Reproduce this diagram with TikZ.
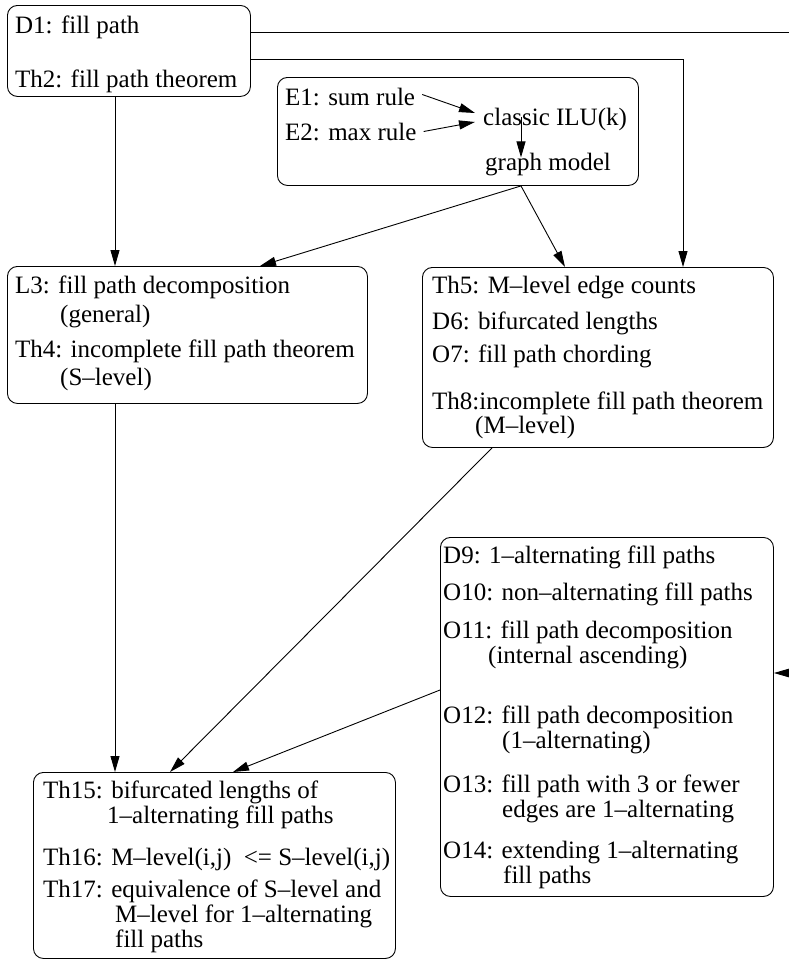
\documentclass[tikz,border=0pt]{standalone}
\usepackage{fontspec}
\setmainfont{Liberation Serif}
\usetikzlibrary{arrows.meta,calc}
\begin{document}
\begin{tikzpicture}[x=1pt,y=-1pt,
  box/.style={draw, rounded corners=10pt, line width=0.9pt, inner sep=0pt, anchor=north west},
  txt/.style={anchor=base west, inner sep=0pt, font=\fontsize{25}{25}\selectfont},
  arr/.style={-{Triangle[length=16pt,width=9pt]}, line width=0.9pt},
  ln/.style={line width=0.9pt}]
\useasboundingbox (0,0) rectangle (789,961);
\clip (0,0) rectangle (789,961);

% boxes
\node[box, minimum width=243pt, minimum height=91pt] (d1) at (7,5) {};
\node[box, minimum width=361pt, minimum height=108pt] (e) at (277,77) {};
\node[box, minimum width=360pt, minimum height=137pt] (l3) at (7,266) {};
\node[box, minimum width=351pt, minimum height=180pt] (th5) at (422,267) {};
\node[box, minimum width=333pt, minimum height=359pt] (d9) at (440,537) {};
\node[box, minimum width=362pt, minimum height=186pt] (th15) at (33,772) {};

% texts
\node[txt] (t1) at (15,33) {D1: fill path};
\node[txt] (t2) at (15,87) {Th2: fill path theorem};

\node[txt] (e1) at (285,105) {E1: sum rule};
\node[txt] (e2) at (285,140) {E2: max rule};
\node[txt] (ilu) at (483,125) {classic ILU(k)};
\node[txt] (gm) at (485,170) {graph model};

\node[txt] (t3) at (15,293) {L3: fill path decomposition};
\node[txt] (t3b) at (60,322) {(general)};
\node[txt] (t4) at (15,357) {Th4: incomplete fill path theorem};
\node[txt] (t4b) at (60,385) {(S–level)};

\node[txt] (t5) at (432,293) {Th5: M–level edge counts};
\node[txt] (t6) at (432,329) {D6: bifurcated lengths};
\node[txt] (t7) at (432,362) {O7: fill path chording};
\node[txt] (t8) at (432,409) {Th8:incomplete fill path theorem};
\node[txt] (t8b) at (475,433) {(M–level)};

\node[txt] (t9) at (443,563) {D9: 1–alternating fill paths};
\node[txt] (t10) at (443,600) {O10: non–alternating fill paths};
\node[txt] (t11) at (443,638) {O11: fill path decomposition};
\node[txt] (t11b) at (488,663) {(internal ascending)};
\node[txt] (t12) at (443,723) {O12: fill path decomposition};
\node[txt] (t12b) at (502,748) {(1–alternating)};
\node[txt] (t13) at (443,792) {O13: fill path with 3 or fewer};
\node[txt] (t13b) at (502,817) {edges are 1–alternating};
\node[txt] (t14) at (443,858) {O14: extending 1–alternating};
\node[txt] (t14b) at (503,883) {fill paths};

\node[txt] (t15) at (43,798) {Th15: bifurcated lengths of};
\node[txt] (t15b) at (107,823) {1–alternating fill paths};
\node[txt] (t16) at (43,865) {Th16: M–level(i,j)\ \ {<}= S–level(i,j)};
\node[txt] (t17) at (43,897) {Th17: equivalence of S–level and};
\node[txt] (t17b) at (115,922) {M–level for 1–alternating};
\node[txt] (t17c) at (115,947) {fill paths};

% helper coordinates
\coordinate (a32) at (0,32);
\coordinate (a59) at (0,59);
\coordinate (a673) at (0,673);
\coordinate (a690) at (0,690);
\coordinate (x115) at (115,0);
\coordinate (x170) at (170,0);
\coordinate (x233) at (233,0);
\coordinate (x260) at (260,0);
\coordinate (x492) at (492,0);
\coordinate (x521) at (521,0);
\coordinate (x565) at (565,0);
\coordinate (x683) at (683,0);
\coordinate (xr) at (830,0);

% connectors
\draw[arr] (d1.east |- a32) -- (xr |- a32) -- (xr |- a673) -- (d9.east |- a673);
\draw[arr] (d1.east |- a59) -- (x683 |- a59) -- (x683 |- th5.north);
\draw[arr] (d1.south -| x115) -- (l3.north -| x115);

\draw[arr] ($(e1.east)+(7,-2)$) -- ($(ilu.west)+(-8,-6)$);
\draw[arr] ($(e2.east)+(7,0)$) -- ($(ilu.west)+(-8,3)$);
\draw[arr] ($(ilu.center -| x521)+(0,-2)$) -- ($(gm.north -| x521)+(0,5)$);

\draw[arr] (e.south -| x521) -- (l3.north -| x260);
\draw[arr] (e.south -| x521) -- (th5.north -| x565);

\draw[arr] (l3.south -| x115) -- (th15.north -| x115);
\draw[arr] (th5.south -| x492) -- (th15.north -| x170);
\draw[arr] (d9.west |- a690) -- (th15.north -| x233);
\end{tikzpicture}
\end{document}
